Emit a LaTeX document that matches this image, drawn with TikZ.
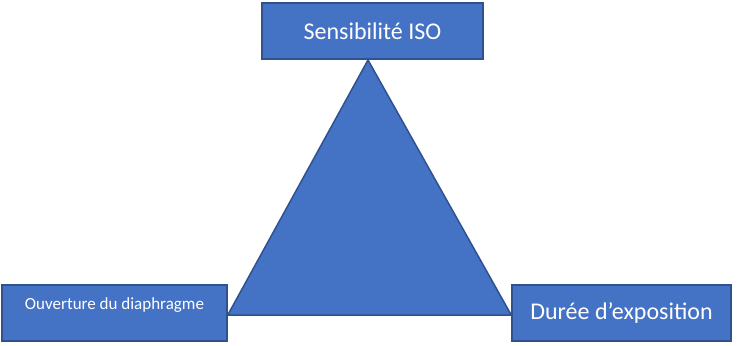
\documentclass[tikz,border=0pt]{standalone}
\usepackage{fontspec}
\setmainfont{Carlito}
\usetikzlibrary{positioning,backgrounds}
\definecolor{bleu}{HTML}{4472C4}
\definecolor{bord}{HTML}{2F528F}

\tikzset{
  boite/.style={draw=bord,fill=bleu,line width=1.5pt,text=white,inner sep=0pt,minimum height=56pt},
}

\begin{document}
\begin{tikzpicture}[x=1pt,y=-1pt]
\useasboundingbox (0,0) rectangle (738,345);
\node[boite,minimum width=221pt,font=\fontsize{24}{28}\selectfont] (iso) at (372.5,31) {Sensibilité ISO};
\node[boite,minimum width=225pt,font=\fontsize{17}{20}\selectfont,text height=10pt,text depth=17pt] (ouverture) at (114.5,313) {Ouverture du diaphragme};
\node[boite,minimum width=219pt,font=\fontsize{24}{28}\selectfont] (duree) at (621.5,313) {Durée d’exposition};
\coordinate (sommet) at (368,60);
\begin{scope}[on background layer]
\filldraw[draw=bord,fill=bleu,line width=1.5pt] (sommet) -- (ouverture.east |- 0,315) -- (duree.west |- 0,315) -- cycle;
\end{scope}
\end{tikzpicture}
\end{document}
